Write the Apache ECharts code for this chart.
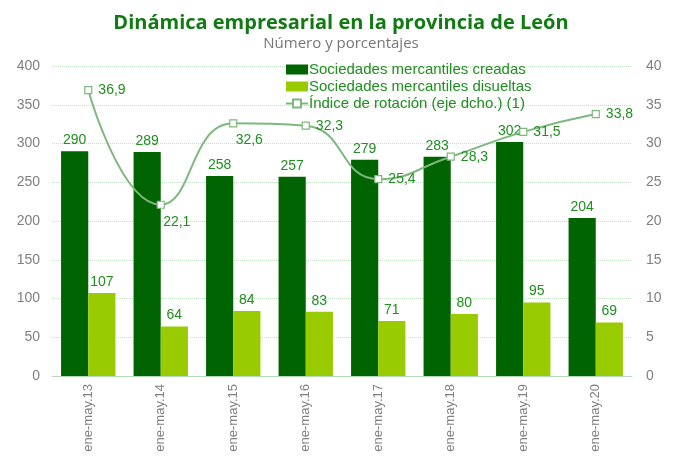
<!DOCTYPE html>
<html>
<head>
<meta charset="utf-8">
<script src="https://cdn.jsdelivr.net/npm/echarts@6/dist/echarts.min.js"></script>
<style>
  html, body { margin: 0; padding: 0; background: #fff; }
  #main { width: 682px; height: 459px; }
</style>
</head>
<body>
<div id="main"></div>
<script>
var categories = ['ene-may.13', 'ene-may.14', 'ene-may.15', 'ene-may.16', 'ene-may.17', 'ene-may.18', 'ene-may.19', 'ene-may.20'];
var creadas = [290, 289, 258, 257, 279, 283, 302, 204];
var disueltas = [107, 64, 84, 83, 71, 80, 95, 69];
var rotacion = [36.9, 22.1, 32.6, 32.3, 25.4, 28.3, 31.5, 33.8];
var rotacionPos = ['right', 'bottom', 'bottom', 'right', 'right', 'right', 'right', 'right'];

var chartDom = document.getElementById('main');
var myChart = echarts.init(chartDom);
var option;

var labelGreen = '#1f8f1f';
var fmt = function (v) { return String(v).replace('.', ','); };

var lineData = rotacion.map(function (v, i) {
    var pos = rotacionPos[i];
    return {
        value: v,
        label: pos === 'bottom'
            ? { position: 'bottom', offset: [16, 0] }
            : { position: 'right' }
    };
});

option = {
    textStyle: { fontFamily: 'Liberation Sans' },
    title: {
        text: 'Dinámica empresarial en la provincia de León',
        subtext: 'Número y porcentajes',
        left: 'center',
        top: 8,
        itemGap: 3,
        textStyle: { fontFamily: 'Open Sans', fontWeight: 'bold', fontSize: 20, color: '#127a12' },
        subtextStyle: { fontFamily: 'Open Sans', fontSize: 15, color: '#777777' }
    },
    legend: {
        orient: 'vertical',
        left: 280,
        top: 57,
        itemGap: 2,
        itemWidth: 22,
        itemHeight: 10,
        textStyle: { fontSize: 15, color: labelGreen, padding: [0, 0, 0, -4] },
        data: [
            { name: 'Sociedades mercantiles creadas', icon: 'rect' },
            { name: 'Sociedades mercantiles disueltas', icon: 'rect' },
            { name: 'Índice de rotación (eje dcho.) (1)' }
        ]
    },
    grid: { left: 52, right: 50, top: 66, bottom: 83 },
    xAxis: {
        type: 'category',
        data: categories,
        axisLine: { lineStyle: { color: '#b6dab6' } },
        axisTick: { show: false },
        axisLabel: { rotate: 90, color: '#808080', fontSize: 13, margin: 8 }
    },
    yAxis: [{
        type: 'value',
        min: 0, max: 400, interval: 50,
        axisLine: { show: false },
        axisTick: { show: false },
        axisLabel: { color: '#808080', fontSize: 14, margin: 12 },
        splitLine: { lineStyle: { color: '#c4e2c4', type: 'dotted' } }
    }, {
        type: 'value',
        min: 0, max: 40, interval: 5,
        axisLine: { show: false },
        axisTick: { show: false },
        axisLabel: { color: '#808080', fontSize: 14, margin: 14 },
        splitLine: { show: false }
    }],
    series: [{
        name: 'Sociedades mercantiles creadas',
        type: 'bar',
        data: creadas,
        barGap: '0%',
        barCategoryGap: '25%',
        itemStyle: { color: '#006400' },
        label: { show: true, position: 'top', color: labelGreen, fontSize: 14, distance: 4 }
    }, {
        name: 'Sociedades mercantiles disueltas',
        type: 'bar',
        data: disueltas,
        itemStyle: { color: '#99cc00' },
        label: { show: true, position: 'top', color: labelGreen, fontSize: 14, distance: 4 }
    }, {
        name: 'Índice de rotación (eje dcho.) (1)',
        type: 'line',
        yAxisIndex: 1,
        data: lineData,
        smooth: 0.5,
        symbol: 'rect',
        symbolSize: 7,
        lineStyle: { color: '#7fb87f', width: 2 },
        itemStyle: { color: '#ffffff', borderColor: '#7fb87f', borderWidth: 1.2 },
        label: {
            show: true,
            color: labelGreen,
            fontSize: 14,
            distance: 6,
            formatter: function (p) { return fmt(p.value); }
        },
        z: 5
    }]
};

option && myChart.setOption(option);
</script>
</body>
</html>
